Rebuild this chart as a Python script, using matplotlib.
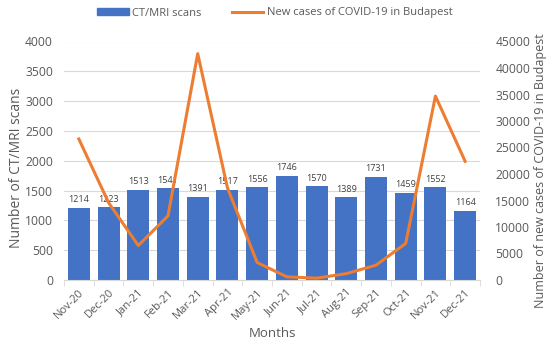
import matplotlib
matplotlib.use("Agg")
import matplotlib.pyplot as plt
import numpy as np
from matplotlib.lines import Line2D
from matplotlib.patches import Patch

months = ["Nov-20", "Dec-20", "Jan-21", "Feb-21", "Mar-21", "Apr-21", "May-21",
          "Jun-21", "Jul-21", "Aug-21", "Sep-21", "Oct-21", "Nov-21", "Dec-21"]
scans = [1214, 1223, 1513, 1541, 1391, 1517, 1556, 1746, 1570, 1389, 1731, 1459, 1552, 1164]
covid_cases = [26600, 14600, 6500, 12100, 42700, 17400, 3300, 600, 350, 1200, 2800, 6900, 34700, 22400]

plt.rcParams['font.family'] = ['Open Sans', 'DejaVu Sans']
gray = "#595959"

fig = plt.figure(figsize=(5.5, 3.51), dpi=100)
ax = fig.add_axes([64/550, 1-280/351, (480-64)/550, (280-41.5)/351])
ax2 = ax.twinx()

x = np.arange(len(months))
ax.bar(x, scans, width=0.74, color="#4472C4", zorder=2)
for xi, v in zip(x, scans):
    ax.text(xi, v + 60, str(v), ha="center", va="bottom", fontsize=6.5, color="#404040")

ax2.plot(x, covid_cases, color="#ED7D31", linewidth=2.2, zorder=3)

ax.set_xlim(-0.5, len(months) - 0.5)
ax.set_ylim(0, 4000)
ax.set_yticks(np.arange(0, 4001, 500))
ax2.set_ylim(0, 45000)
ax2.set_yticks(np.arange(0, 45001, 5000))

ax.grid(axis="y", color="#D9D9D9", linewidth=0.8, zorder=0)
ax.set_axisbelow(True)

for a in (ax, ax2):
    for s in a.spines.values():
        s.set_visible(False)
    a.tick_params(axis="y", length=0, labelsize=8.7, colors=gray)
ax.tick_params(axis="y", pad=8)
ax2.tick_params(axis="y", pad=11)
ax.spines["bottom"].set_visible(True)
ax.spines["bottom"].set_color("#D9D9D9")

ax.set_xticks(x)
ax.set_xticklabels(months, rotation=45, ha="right", rotation_mode="anchor", fontsize=8, color=gray)
ax.tick_params(axis="x", length=0, pad=5)
ax.set_xticks(np.arange(-0.5, len(months), 1), minor=True)
ax.tick_params(axis="x", which="minor", length=4, color="#D9D9D9")

ax.set_ylabel("Number of CT/MRI scans", fontsize=10, color=gray)
ax.yaxis.set_label_coords(-(64 - 24) / 416, 0.47)
ax2.set_ylabel("Number of new cases of COVID-19 in Budapest", fontsize=9, color=gray)
ax2.yaxis.set_label_coords(1 + (534 - 480) / 416, 0.46)
ax.set_xlabel("Months", fontsize=9.5, color=gray, labelpad=4)

handles = [Patch(color="#4472C4"), Line2D([0], [0], color="#ED7D31", linewidth=2.2)]
fig.legend(handles, ["CT/MRI scans", "New cases of COVID-19 in Budapest"],
           loc="center", bbox_to_anchor=(0.5, 1 - 13/351), ncol=2, frameon=False,
           fontsize=8, labelcolor=gray, handlelength=2.8, handleheight=0.6,
           handletextpad=0.3, columnspacing=2.8)

fig.savefig("out.png", dpi=100)
